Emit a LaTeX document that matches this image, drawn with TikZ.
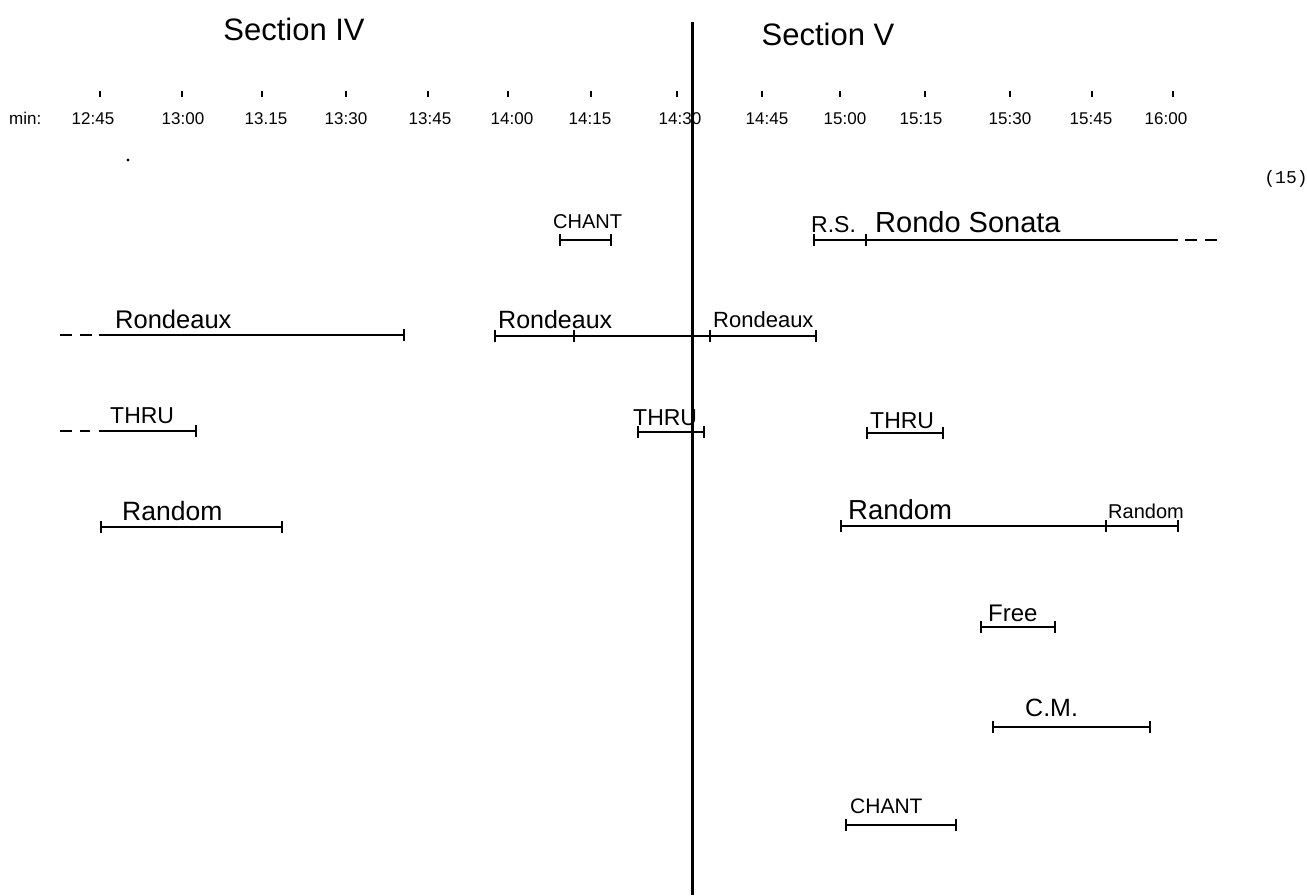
\documentclass[tikz,border=0pt]{standalone}
\usepackage{fontspec}
\setmainfont{Liberation Sans}
\newfontfamily\monofam{Liberation Mono}
\usetikzlibrary{arrows.meta}

\newcommand{\fs}[1]{\fontsize{#1}{#1}\selectfont}

\begin{document}
\begin{tikzpicture}[x=1pt,y=-1pt,
  hand/.style={inner sep=0pt, anchor=base west, font=\fs{#1}},
  hand/.default=22,
  head/.style={inner sep=0pt, anchor=base, font=\fs{31}},
  span/.style={line width=2.8pt},
  both/.style={span, {Bar[width=12pt,line width=2.2pt]}-{Bar[width=12pt,line width=2.2pt]}},
  rightend/.style={span, -{Bar[width=12pt,line width=2.2pt]}},
  midtick/.style={line width=2.2pt},
  lead/.style={line width=2.8pt, dash pattern=on 12pt off 8pt},
  axtick/.style={line width=2pt},
  time/.style={inner sep=0pt, anchor=base, font=\fs{17}},
]
\useasboundingbox (0,0) rectangle (1307,895);

% headings and the section divider
\node[head] (secIV) at (294,40) {Section IV};
\node[head] (secV) at (828,45) {Section V};
\coordinate (divtop) at (692,22);
\coordinate (divbot) at (692,895);
\draw[line width=3pt] (divtop) -- (divbot);

% time axis
\node[time, anchor=base west] (minlab) at (9,124) {min:};
\foreach \tx/\lx/\lab [count=\i] in {
  100/93/12:45, 182/183/13:00, 262/266/13.15, 346/346/13:30,
  428/430/13:45, 508/512/14:00, 591/590/14:15, 677/680/14:30,
  762/767/14:45, 840/845/15:00, 925/921/15:15, 1010/1010/15:30,
  1092/1091/15:45, 1173/1166/16:00} {
  \node[time] (t\i) at (\lx,124) {\lab};
  \draw[axtick] (\tx,91) -- (\tx,97);
}
\fill (128,160) circle (1.6pt);

% page number
\node[inner sep=0pt, anchor=base, font=\monofam\fs{18}] (pg) at (1286,183) {(15)};

% CHANT (top)
\coordinate (chA) at (559,240); \coordinate (chB) at (612,240);
\node[hand=20] (chLab) at (553,228) {CHANT};
\draw[both] (chA) -- (chB);

% R.S. Rondo Sonata
\coordinate (rsA) at (813,240); \coordinate (rsM) at (866,240);
\coordinate (rsB) at (1178,240);
\coordinate (rsC) at (1185,240); \coordinate (rsD) at (1217,240);
\node[hand=23] (rsLab) at (811,232) {R.S.};
\node[hand=29] (rsName) at (875,232) {Rondo Sonata};
\draw[span, {Bar[width=12pt,line width=2.2pt]}-] (rsA) -- (rsB);
\draw[midtick] (rsM) ++(0,-6) -- ++(0,12);
\draw[lead] (rsC) -- (rsD);

% Rondeaux (left)
\coordinate (r1L) at (60,335); \coordinate (r1D) at (92,335);
\coordinate (r1A) at (99,335); \coordinate (r1B) at (405,335);
\node[hand=25.5] (r1Lab) at (115,328) {Rondeaux};
\draw[lead] (r1L) -- (r1D);
\draw[rightend] (r1A) -- (r1B);

% Rondeaux (centre)
\coordinate (r2A) at (494,336); \coordinate (r2M) at (574,336);
\coordinate (r2N) at (710,336); \coordinate (r2B) at (817,336);
\node[hand=25] (r2Lab) at (498,328) {Rondeaux};
\node[hand=22] (r3Lab) at (713,327) {Rondeaux};
\draw[both] (r2A) -- (r2B);
\draw[midtick] (r2M) ++(0,-6) -- ++(0,12);
\draw[midtick] (r2N) ++(0,-6) -- ++(0,12);

% THRU (left)
\coordinate (th1L) at (60,431); \coordinate (th1D) at (90,431);
\coordinate (th1A) at (99,431); \coordinate (th1B) at (197,431);
\node[hand=23] (th1Lab) at (110,423) {THRU};
\draw[lead] (th1L) -- (th1D);
\draw[rightend] (th1A) -- (th1B);

% THRU (centre)
\coordinate (th2A) at (637,432); \coordinate (th2B) at (705,432);
\node[hand=23] (th2Lab) at (633,425) {THRU};
\draw[both] (th2A) -- (th2B);

% THRU (right)
\coordinate (th3A) at (866,433); \coordinate (th3B) at (944,433);
\node[hand=23] (th3Lab) at (870,428) {THRU};
\draw[both] (th3A) -- (th3B);

% Random (left)
\coordinate (ra1A) at (100,527); \coordinate (ra1B) at (283,527);
\node[hand=26.5] (ra1Lab) at (122,520) {Random};
\draw[both] (ra1A) -- (ra1B);

% Random (right)
\coordinate (ra2A) at (840,526); \coordinate (ra2M) at (1106,526);
\coordinate (ra2B) at (1179,526);
\node[hand=27.5] (ra2Lab) at (848,519) {Random};
\node[hand=20] (ra3Lab) at (1108,518) {Random};
\draw[both] (ra2A) -- (ra2B);
\draw[midtick] (ra2M) ++(0,-6) -- ++(0,12);

% Free
\coordinate (frA) at (980,627); \coordinate (frB) at (1056,627);
\node[hand=24] (frLab) at (988,621) {Free};
\draw[both] (frA) -- (frB);

% C.M.
\coordinate (cmA) at (992,727); \coordinate (cmB) at (1151,727);
\node[hand=25] (cmLab) at (1025,716) {C.M.};
\draw[both] (cmA) -- (cmB);

% CHANT (bottom)
\coordinate (ch2A) at (845,825); \coordinate (ch2B) at (957,825);
\node[hand=21] (ch2Lab) at (850,813) {CHANT};
\draw[both] (ch2A) -- (ch2B);
\end{tikzpicture}
\end{document}
